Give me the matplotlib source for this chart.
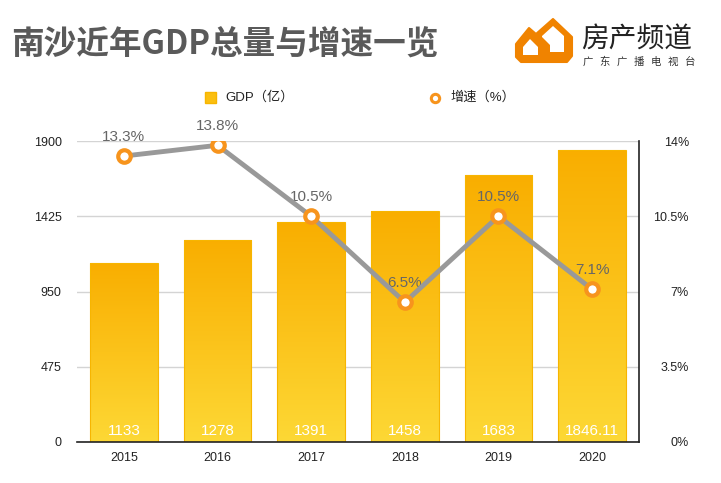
import numpy as np
import matplotlib
matplotlib.use("Agg")
import matplotlib.pyplot as plt
from matplotlib.colors import LinearSegmentedColormap
from matplotlib.patches import Polygon

plt.rcParams['font.family'] = ['Liberation Sans', 'Noto Sans CJK SC', 'DejaVu Sans']

years = ['2015', '2016', '2017', '2018', '2019', '2020']
gdp = [1133, 1278, 1391, 1458, 1683, 1846.11]
gdp_labels = ['1133', '1278', '1391', '1458', '1683', '1846.11']
growth = [13.3, 13.8, 10.5, 6.5, 10.5, 7.1]
left_ticks = [0, 475, 950, 1425, 1900]
right_ticks = [0, 3.5, 7, 10.5, 14]
right_labels = ['0%', '3.5%', '7%', '10.5%', '14%']

W, H = 721, 483
fig = plt.figure(figsize=(W / 100, H / 100), dpi=100)
fig.patch.set_facecolor('white')

ax = fig.add_axes([77 / W, 1 - 442 / H, (639 - 77) / W, (442 - 141) / H])
x = np.arange(len(years))

bars = ax.bar(x, gdp, width=0.72, color='none', edgecolor='#F7B500', linewidth=0.8, zorder=2)
grad = LinearSegmentedColormap.from_list('g', ['#FDD835', '#F9AE00'])
gimg = np.linspace(0, 1, 256).reshape(-1, 1)
for b in bars:
    x0, y0 = b.get_x(), b.get_y()
    im = ax.imshow(gimg, cmap=grad, origin='lower', aspect='auto',
                   extent=[x0, x0 + b.get_width(), y0, y0 + b.get_height()], zorder=1.5)
    im.set_clip_path(b)

for i, lab in enumerate(gdp_labels):
    ax.annotate(lab, (x[i], 0), xytext=(0, 8), textcoords='offset points',
                ha='center', va='center', color='white', fontsize=11, zorder=3)

ax.set_xlim(-0.5, len(years) - 0.5)
ax.set_ylim(0, 1900)
ax.set_yticks(left_ticks)
ax.set_yticklabels([str(t) for t in left_ticks])
ax.set_xticks(x)
ax.set_xticklabels(years)
ax.tick_params(axis='y', length=0, pad=11, labelsize=9, labelcolor='#222222')
ax.tick_params(axis='x', length=0, pad=7, labelsize=9, labelcolor='#222222')
ax.yaxis.grid(True, color='#d4d4d4', linewidth=1)
ax.set_axisbelow(True)
for s in ['left', 'top', 'right']:
    ax.spines[s].set_visible(False)
ax.spines['bottom'].set_color('#222222')
ax.spines['bottom'].set_linewidth(1.2)

ax2 = ax.twinx()
ax2.plot(x, growth, color='#999999', linewidth=3.5, marker='o', markersize=9,
         markerfacecolor='white', markeredgecolor='#F7941D', markeredgewidth=3, zorder=4)
for i, g in enumerate(growth):
    ax2.annotate(f'{g}%', (x[i], g), xytext=(0, 14), textcoords='offset points',
                 ha='center', va='center', color='#666666', fontsize=11)
ax2.set_ylim(0, 14)
ax2.set_yticks(right_ticks)
ax2.set_yticklabels(right_labels, ha='right')
ax2.tick_params(axis='y', length=0, pad=36, labelsize=9, labelcolor='#222222')
for s in ['left', 'top', 'bottom']:
    ax2.spines[s].set_visible(False)
ax2.spines['right'].set_color('#222222')
ax2.spines['right'].set_linewidth(1.2)

# overlay in pixel coords for title, legend, logo
ov = fig.add_axes([0, 0, 1, 1], zorder=-1)
ov.set_xlim(0, W)
ov.set_ylim(H, 0)
ov.axis('off')

ov.text(11, 44, '南沙近年GDP总量与增速一览', fontsize=23.5, fontweight='bold',
        color='#5a5a5a', va='center', ha='left', family=['Noto Sans CJK SC', 'DejaVu Sans'])

# legend
ov.add_patch(plt.Rectangle((205, 92), 11, 11, facecolor='#FBBF10', edgecolor='#F7B500'))
ov.text(225, 97.5, 'GDP（亿）', fontsize=9.5, color='#222222', va='center', ha='left')
ov.plot([435], [97.5], marker='o', markersize=6, markerfacecolor='white',
        markeredgecolor='#F7941D', markeredgewidth=2.2)
ov.text(450, 97.5, '增速（%）', fontsize=9.5, color='#222222', va='center', ha='left')

# logo
orange = '#F08300'
ov.add_patch(Polygon([(516, 44), (529, 28), (536, 34), (553, 19), (572, 37), (572, 56),
                      (567, 62), (521, 62), (516, 57)], closed=True, facecolor=orange, edgecolor=orange,
                     joinstyle='round', linewidth=1.5))
ov.add_patch(Polygon([(542, 36), (553, 26), (564, 36), (564, 52), (550, 52), (550, 45), (542, 37)],
                     closed=True, facecolor='white', edgecolor='none'))
ov.add_patch(Polygon([(523, 47), (530, 39), (538, 47), (538, 55), (523, 55)],
                     closed=True, facecolor='white', edgecolor='none'))
ov.text(581, 39, '房产频道', fontsize=20, color='#222222', va='center', ha='left',
        family=['Noto Sans CJK SC'])
for cx, ch in zip(np.linspace(588, 690, 7), '广东广播电视台'):
    ov.text(cx, 62, ch, fontsize=7.5, color='#333333', va='center', ha='center',
            family=['Noto Sans CJK SC'])

fig.savefig('out.png', dpi=100)
